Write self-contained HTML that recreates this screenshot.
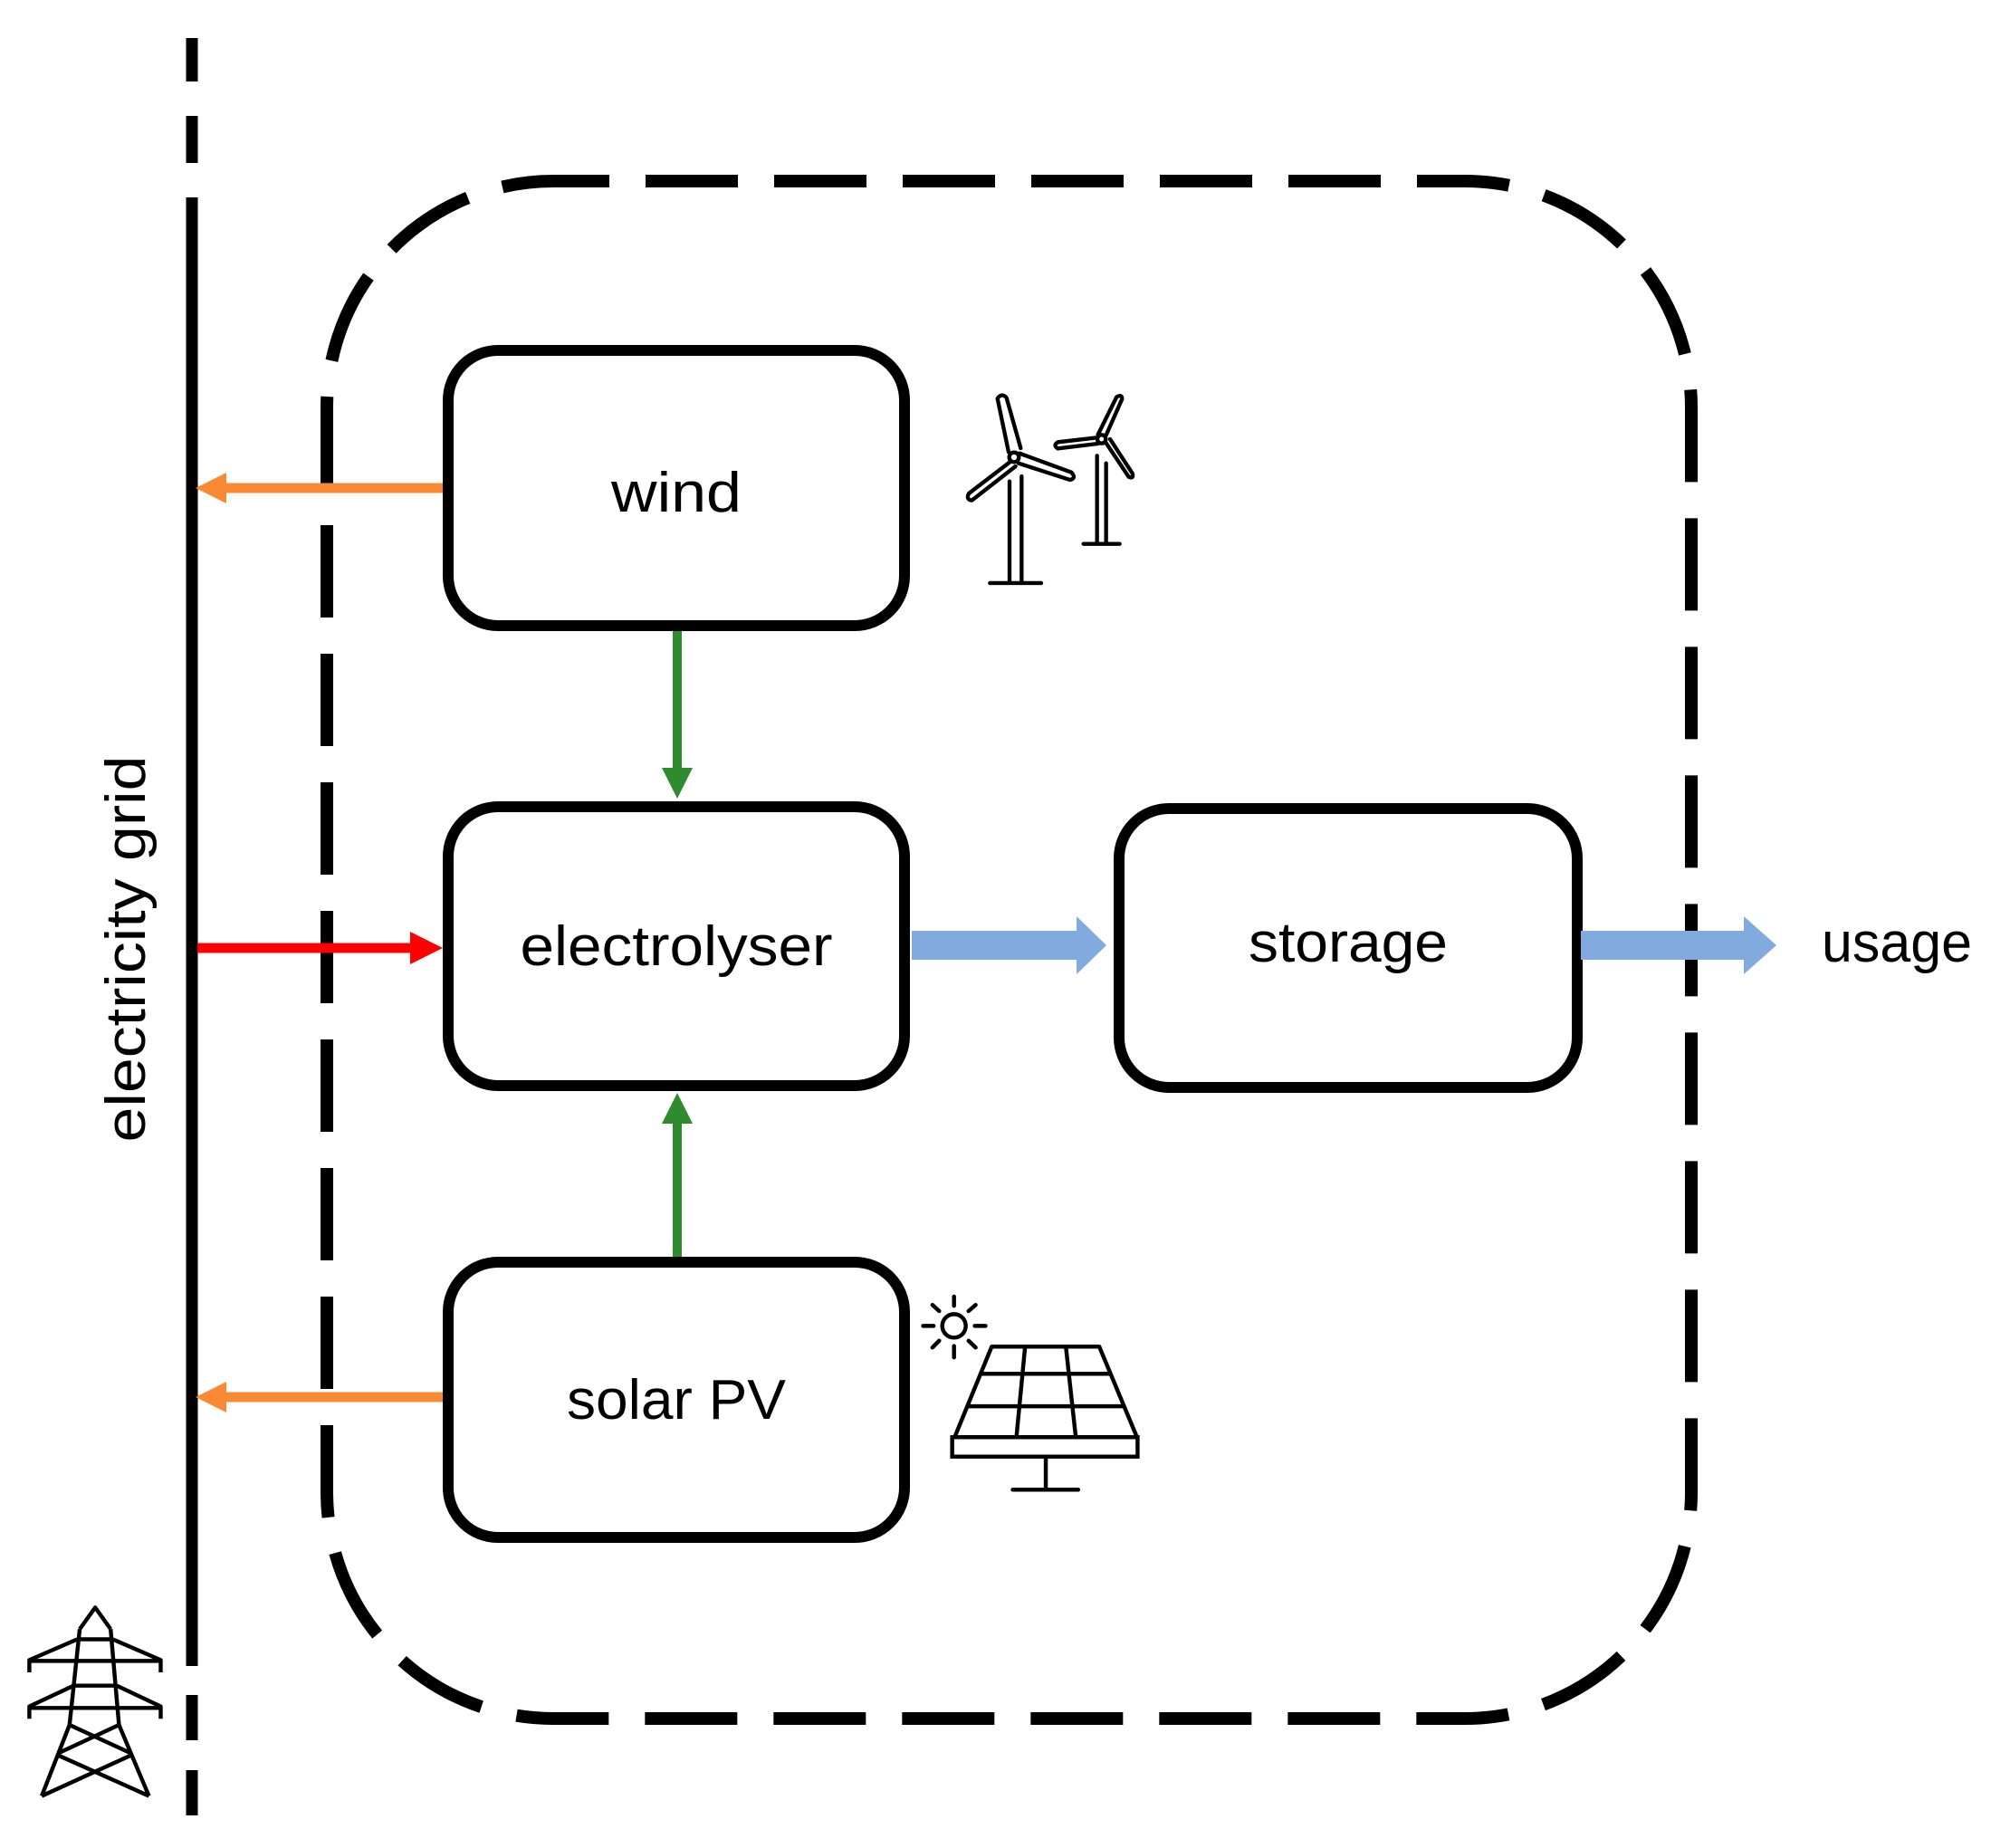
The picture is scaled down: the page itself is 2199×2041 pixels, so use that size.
<!DOCTYPE html>
<html><head><meta charset="utf-8"><style>
html,body{margin:0;padding:0;background:#fff;}
svg{display:block;}
text{font-family:"Liberation Sans",sans-serif;fill:#000;}
</style></head><body>
<svg width="2199" height="2041" viewBox="0 0 2199 2041" xmlns="http://www.w3.org/2000/svg">
<rect width="2199" height="2041" fill="#fff"/>
<line x1="212" y1="42" x2="212" y2="90" stroke="#000" stroke-width="13"/>
<line x1="212" y1="128" x2="212" y2="180" stroke="#000" stroke-width="13"/>
<line x1="212" y1="218" x2="212" y2="1840" stroke="#000" stroke-width="13"/>
<line x1="212" y1="1872" x2="212" y2="1922" stroke="#000" stroke-width="13"/>
<line x1="212" y1="1955" x2="212" y2="2005" stroke="#000" stroke-width="13"/>
<rect x="361" y="200" width="1507" height="1698" rx="250" ry="250" fill="none" stroke="#000" stroke-width="14" stroke-dasharray="102 40" stroke-dashoffset="40"/>
<rect x="495" y="387" width="504" height="304" rx="55" fill="none" stroke="#000" stroke-width="12"/>
<rect x="495" y="891" width="504" height="308" rx="55" fill="none" stroke="#000" stroke-width="12"/>
<rect x="495" y="1394" width="504" height="304" rx="55" fill="none" stroke="#000" stroke-width="12"/>
<rect x="1236" y="893" width="506" height="308" rx="55" fill="none" stroke="#000" stroke-width="12"/>
<text x="747" y="565" font-size="62" text-anchor="middle" textLength="144" lengthAdjust="spacingAndGlyphs">wind</text>
<text x="747" y="1066" font-size="62" text-anchor="middle" textLength="345" lengthAdjust="spacingAndGlyphs">electrolyser</text>
<text x="747" y="1567" font-size="62" text-anchor="middle" textLength="242" lengthAdjust="spacingAndGlyphs">solar PV</text>
<text x="1489" y="1062" font-size="62" text-anchor="middle" textLength="220" lengthAdjust="spacingAndGlyphs">storage</text>
<text x="2012" y="1062" font-size="62" textLength="166" lengthAdjust="spacingAndGlyphs">usage</text>
<text transform="translate(160,1048) rotate(-90)" font-size="62" text-anchor="middle" textLength="427" lengthAdjust="spacingAndGlyphs">electricity grid</text>
<line x1="489" y1="539" x2="240" y2="539" stroke="#f98a33" stroke-width="11"/>
<polygon points="216,539 250,522 250,556" fill="#f98a33"/>
<line x1="489" y1="1543" x2="240" y2="1543" stroke="#f98a33" stroke-width="11"/>
<polygon points="216,1543 250,1526 250,1560" fill="#f98a33"/>
<line x1="218" y1="1047" x2="460" y2="1047" stroke="#ff0000" stroke-width="11"/>
<polygon points="489,1047 453,1029 453,1065" fill="#ff0000"/>
<line x1="748" y1="697" x2="748" y2="855" stroke="#2e8b2e" stroke-width="10"/>
<polygon points="748,882 731,848 765,848" fill="#2e8b2e"/>
<line x1="748" y1="1388" x2="748" y2="1235" stroke="#2e8b2e" stroke-width="10"/>
<polygon points="748,1207 731,1241 765,1241" fill="#2e8b2e"/>
<polygon points="1007,1028 1189,1028 1189,1012 1222,1044 1189,1076 1189,1060 1007,1060" fill="#81aadf"/>
<polygon points="1746,1028 1926,1028 1926,1012 1962,1044 1926,1076 1926,1060 1746,1060" fill="#81aadf"/>
<g transform="translate(1040,420) scale(0.3333)" fill="none" stroke="#000" stroke-width="13" stroke-linejoin="round" stroke-linecap="round">
<circle cx="240" cy="255" r="16"/>
<path d="M222,238 L185,60 Q200,40 215,58 L262,225"/>
<path d="M225,272 L90,375 Q80,395 100,398 L245,285"/>
<path d="M258,242 L430,305 Q448,325 425,330 L255,275"/>
<line x1="225" y1="335" x2="225" y2="668"/><line x1="265" y1="318" x2="265" y2="668"/>
<line x1="160" y1="672" x2="330" y2="672"/>
<circle cx="530" cy="195" r="14"/>
<path d="M518,180 L580,55 Q598,45 598,62 L545,182"/>
<path d="M515,190 L385,205 Q368,215 385,226 L518,210"/>
<path d="M543,205 L620,320 Q638,328 632,308 L558,195"/>
<line x1="515" y1="250" x2="515" y2="538"/><line x1="545" y1="275" x2="545" y2="538"/>
<line x1="470" y1="542" x2="590" y2="542"/>
</g>
<g transform="translate(1010,1420) scale(0.3413)" fill="none" stroke="#000" stroke-width="13" stroke-linecap="round">
<circle cx="128" cy="130" r="38"/>
<line x1="128" y1="35" x2="128" y2="65"/><line x1="128" y1="195" x2="128" y2="232"/>
<line x1="28" y1="130" x2="62" y2="130"/><line x1="195" y1="130" x2="230" y2="130"/>
<line x1="58" y1="62" x2="80" y2="82"/><line x1="175" y1="178" x2="198" y2="200"/>
<line x1="198" y1="62" x2="175" y2="82"/><line x1="80" y1="178" x2="58" y2="200"/>
<polygon points="250,197 598,197 720,490 130,490" stroke-linejoin="round"/>
<rect x="122" y="490" width="600" height="63"/>
<line x1="220" y1="285" x2="630" y2="285"/><line x1="175" y1="390" x2="675" y2="390"/>
<line x1="358" y1="197" x2="330" y2="490"/><line x1="490" y1="197" x2="522" y2="490"/>
<line x1="425" y1="553" x2="425" y2="660"/><line x1="318" y1="660" x2="530" y2="660"/>
</g>
<g transform="translate(0,1760) scale(0.3413)" fill="none" stroke="#000" stroke-width="13" stroke-linejoin="round">
<polyline points="258,115 308,45 358,115"/>
<polyline points="258,115 225,425 135,655"/>
<polyline points="358,115 385,425 482,655"/>
<line x1="250" y1="148" x2="365" y2="148"/>
<polyline points="250,148 95,215 95,255"/><polyline points="365,148 520,215 520,255"/>
<line x1="95" y1="218" x2="520" y2="218"/>
<line x1="238" y1="298" x2="378" y2="298"/>
<polyline points="238,298 95,365 95,405"/><polyline points="378,298 520,365 520,405"/>
<line x1="95" y1="370" x2="520" y2="370"/>
<line x1="225" y1="425" x2="420" y2="515"/><line x1="385" y1="425" x2="192" y2="515"/>
<line x1="192" y1="525" x2="482" y2="655"/><line x1="420" y1="525" x2="135" y2="655"/>
</g>
</svg>
</body></html>
